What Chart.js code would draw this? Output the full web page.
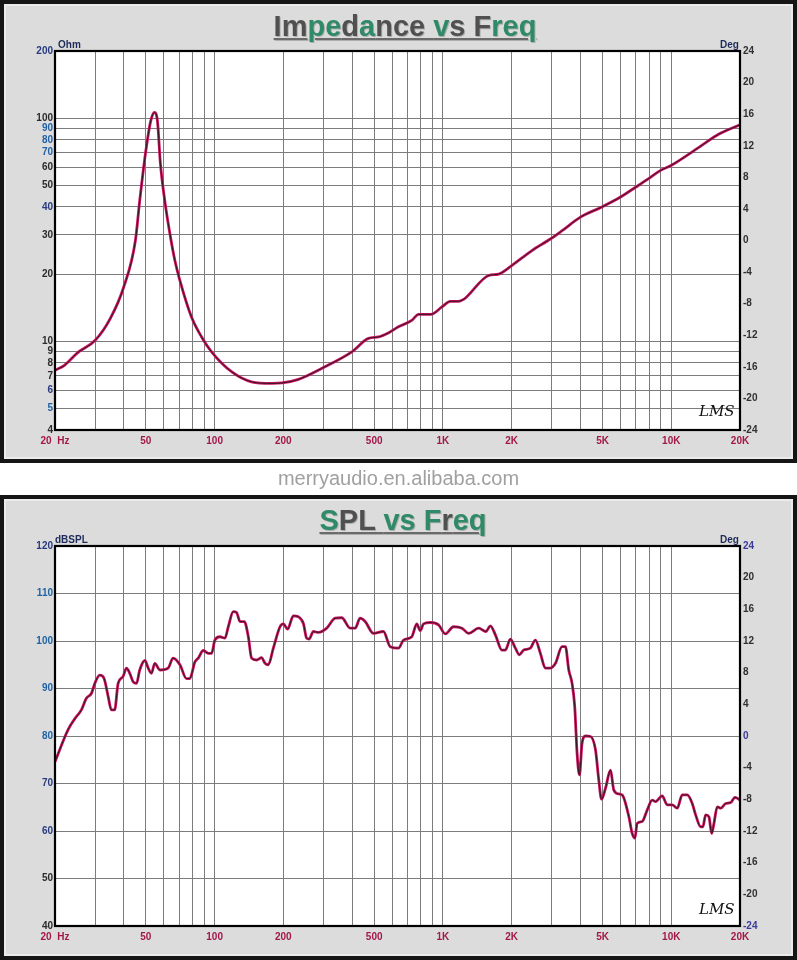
<!DOCTYPE html>
<html><head><meta charset="utf-8">
<script src="https://cdn.jsdelivr.net/npm/chart.js@4.4.1/dist/chart.umd.min.js"></script>
<style>
html,body{margin:0;padding:0;background:#fff;width:797px;height:960px;overflow:hidden;font-family:"Liberation Sans",Arial,sans-serif;}
.panel{position:absolute;left:0;width:797px;box-sizing:border-box;border:4px solid #151515;background:#dcdcdc;box-shadow:inset 0 0 0 2px #ebebeb;}
#p1{top:0;height:463px;}
#p2{top:495px;height:465px;}
canvas{position:absolute;left:0;}
#c1{top:0;}
#c2{top:495px;}
.title{position:absolute;font-weight:bold;font-size:29px;line-height:29px;white-space:nowrap;text-decoration:underline;text-decoration-color:#6a6a6a;text-decoration-thickness:2px;text-underline-offset:2px;transform:translateX(-50%);text-shadow:1px 1px 0 rgba(90,90,90,0.35);}
.g{color:#2f8a68}.k{color:#505050}
.unit{position:absolute;font-weight:bold;font-size:10px;line-height:10px;color:#1d2b5a;white-space:nowrap;}
.lms{position:absolute;font-family:"DejaVu Serif",serif;font-style:italic;font-size:15px;line-height:15px;color:#111;}
#wm{position:absolute;left:0;width:797px;top:468px;text-align:center;font-size:20px;line-height:20px;color:#a0a0a0;}
</style></head>
<body>
<div class="panel" id="p1"></div>
<div class="panel" id="p2"></div>
<canvas id="c1" width="797" height="463"></canvas>
<canvas id="c2" width="797" height="465"></canvas>
<div class="title" style="left:405px;top:12px;"><span class="k">Im</span><span class="g">pe</span><span class="k">d</span><span class="g">a</span><span class="k">nce </span><span class="g">v</span><span class="k">s F</span><span class="g">req</span></div>
<div class="title" style="left:403px;top:506px;"><span class="g">S</span><span class="k">PL </span><span class="g">vs F</span><span class="k">r</span><span class="g">eq</span></div>
<div class="unit" style="left:58px;top:40px;">Ohm</div>
<div class="unit" style="left:720px;top:40px;">Deg</div>
<div class="unit" style="left:55px;top:535px;">dBSPL</div>
<div class="unit" style="left:720px;top:535px;">Deg</div>
<div class="lms" style="left:699px;top:404px;">LMS</div>
<div class="lms" style="left:699px;top:902px;">LMS</div>
<div id="wm">merryaudio.en.alibaba.com</div>
<script>
// ---- data ----
const impFreq = [20, 22, 25, 30, 35, 40, 45, 47, 50, 52.5, 54.5, 56.2, 57.9, 60.5, 63.7, 67, 70.5, 79.3, 87.7, 97, 118.6, 145, 178, 197, 233, 294, 399, 472, 522, 577, 638, 730, 782, 885, 990, 1077, 1164, 1586, 1754, 1973, 2454, 2966, 3326, 4000, 4944, 5970, 6976, 7925, 8940, 9930, 13220, 16180, 20000];
const impOhm = [7.4, 7.8, 8.85, 10.1, 12.7, 17.5, 28.3, 42.7, 71.5, 97, 106, 97, 62.5, 42.7, 30.4, 23.0, 18.7, 12.8, 10.45, 8.96, 7.3, 6.58, 6.47, 6.5, 6.75, 7.55, 8.96, 10.3, 10.45, 10.9, 11.6, 12.4, 13.2, 13.2, 14.25, 15.1, 15.1, 19.7, 20.0, 21.6, 25.5, 28.8, 31.3, 36, 39.9, 44.2, 49, 53.4, 58.2, 61.2, 74, 84.9, 93.4];

const splFreq = [20, 22.8, 24.4, 26.1, 27.4, 28.9, 29.9, 31.4, 32.8, 34.2, 35.3, 36.5, 37.8, 39.7, 41.1, 42.5, 44.0, 45.5, 47.0, 49.5, 51.2, 52.9, 54.7, 57.6, 62.6, 65.8, 70.5, 75.3, 77.9, 82.0, 84.8, 89.2, 93.8, 97.0, 100.3, 105.5, 111, 114.8, 120.7, 124.8, 129.2, 134.9, 140.5, 145.2, 152.7, 160.6, 166.3, 171.9, 180.8, 193.4, 200, 208.9, 221.2, 232.7, 244.8, 253, 259.3, 270.8, 284.8, 309.8, 337.3, 360.4, 392.2, 412.6, 434, 456.4, 496.2, 549, 587.6, 639, 672, 730.6, 768, 795.6, 822, 880, 956.8, 1024, 1113, 1211, 1296, 1433, 1543, 1613, 1697, 1813, 1877, 1974, 2076, 2162, 2258, 2416, 2540, 2672, 2810, 2956, 3110, 3324, 3440, 3557, 3677, 3778, 3805, 3868, 3962, 4068, 4210, 4428, 4657, 4816, 4948, 5152, 5418, 5604, 5894, 6094, 6522, 6742, 6928, 7090, 7458, 7844, 8250, 8538, 9126, 9598, 10096, 10618, 11168, 11746, 12354, 12786, 13446, 13762, 14144, 14622, 15028, 15382, 15902, 16460, 17312, 18208, 19018, 20000];
const splDb = [74.6, 81.3, 83.6, 85.5, 87.9, 89.0, 91.1, 92.8, 92.1, 88.3, 85.5, 85.5, 91.1, 92.5, 94.3, 93.2, 91.4, 91.1, 93.9, 95.9, 94.3, 93.2, 95.3, 93.9, 94.3, 96.4, 95.0, 92.1, 92.1, 95.6, 96.4, 98.0, 97.4, 97.4, 100.2, 100.9, 100.6, 103.0, 106.2, 106.0, 104.1, 104.1, 100.9, 96.4, 96.0, 96.5, 95.3, 95.0, 98.5, 103.0, 103.6, 102.5, 105.3, 105.1, 103.7, 100.6, 100.4, 102.0, 101.8, 102.7, 104.8, 104.9, 102.7, 102.7, 104.8, 104.1, 101.6, 102.0, 98.8, 98.5, 100.2, 100.9, 103.6, 102.2, 103.6, 103.9, 103.4, 101.5, 103.0, 102.7, 101.6, 102.7, 102.0, 103.2, 101.3, 98.1, 98.1, 100.4, 98.5, 97.1, 98.1, 98.5, 100.2, 97.4, 94.3, 94.3, 95.3, 98.8, 98.8, 93.9, 91.1, 86.2, 83.4, 76.4, 71.8, 78.5, 80.0, 79.9, 77.1, 70.7, 66.7, 69.0, 72.8, 68.6, 67.8, 67.6, 63.0, 59.5, 58.5, 61.6, 62.0, 64.4, 66.5, 66.2, 67.4, 65.5, 65.5, 64.8, 67.6, 67.6, 65.8, 63.4, 60.9, 60.9, 63.4, 63.0, 59.5, 61.6, 65.1, 64.8, 65.8, 66.0, 67.1, 66.5];

const freqGrid = [20,30,40,50,60,70,80,90,100,200,300,400,500,600,700,800,900,1000,2000,3000,4000,5000,6000,7000,8000,9000,10000,20000];
const freqLabelValues = [20, 50, 100, 200, 500, 1000, 2000, 5000, 10000, 20000];
const freqLabels = ['20  Hz', '50', '100', '200', '500', '1K', '2K', '5K', '10K', '20K'];
const ohmTicks = [4,5,6,7,8,9,10,20,30,40,50,60,70,80,90,100,200];
const degMin = -24, degMax = 24, degStep = 4;
const splMin = 40, splMax = 120, splStep = 10;

// ---- styling helpers ----
Chart.defaults.font.family = '"Liberation Sans", Arial, sans-serif';
const tickFont = {size: 10, weight: 'bold'};
const gridColor = '#7c7c7c';
const xLabelOf = v => { const i = freqLabelValues.indexOf(v); return i >= 0 ? freqLabels[i] : ''; };

const framePlugin = {
  id: 'frame',
  beforeDraw(chart) {
    const a = chart.chartArea, c = chart.ctx;
    c.save(); c.fillStyle = '#ffffff'; c.fillRect(a.left, a.top, a.right - a.left, a.bottom - a.top); c.restore();
  },
  afterDraw(chart) {
    const a = chart.chartArea, c = chart.ctx;
    c.save(); c.strokeStyle = '#000'; c.lineWidth = 2.2;
    c.strokeRect(a.left, a.top, a.right - a.left, a.bottom - a.top); c.restore();
  }
};

function xScale() {
  return {
    type: 'logarithmic', min: 20, max: 20000, position: 'bottom',
    afterBuildTicks: s => { s.ticks = freqGrid.map(v => ({value: v})); },
    afterFit: s => { s.height = 33; },
    grid: {color: gridColor, lineWidth: 1, drawTicks: false},
    border: {display: true, color: '#000', width: 2},
    ticks: {autoSkip: false, maxRotation: 0, padding: 5, color: '#a3174a', font: tickFont, callback: v => xLabelOf(v)}
  };
}
function degScale(colorFn) {
  return {
    type: 'linear', position: 'right', min: degMin, max: degMax,
    afterFit: s => { s.width = 57; },
    grid: {display: false, drawTicks: false},
    border: {display: true, color: '#000', width: 2},
    ticks: {stepSize: degStep, padding: 3, color: colorFn, font: tickFont}
  };
}
function lineSets(pts) {
  return [
    {data: pts, order: 1, borderColor: '#1a1a1a', borderWidth: 0.9, pointRadius: 0, cubicInterpolationMode: 'monotone', yAxisID: 'y', xAxisID: 'x'},
    {data: pts, order: 2, borderColor: '#cc1260', borderWidth: 2.8, pointRadius: 0, cubicInterpolationMode: 'monotone', yAxisID: 'y', xAxisID: 'x'}
  ];
}
const baseOpts = {
  responsive: false, animation: false, events: [],
  layout: {padding: {top: 51, left: 0, right: 0, bottom: 0}},
  plugins: {legend: {display: false}, tooltip: {enabled: false}}
};

// ---- impedance chart ----
const impBlue = [90, 80, 70, 5], impNavy = [200, 40, 6];
new Chart(document.getElementById('c1'), {
  type: 'line',
  data: {datasets: lineSets(impFreq.map((f, i) => ({x: f, y: impOhm[i]})))},
  options: Object.assign({}, baseOpts, {
    scales: {
      x: xScale(),
      y: {
        type: 'logarithmic', position: 'left', min: 4, max: 200,
        afterBuildTicks: s => { s.ticks = ohmTicks.map(v => ({value: v})); },
        afterFit: s => { s.width = 55; },
        grid: {color: gridColor, lineWidth: 1, drawTicks: false},
        border: {display: true, color: '#000', width: 2},
        ticks: {autoSkip: false, padding: 2, font: tickFont, callback: v => String(v),
          color: c => impBlue.includes(c.tick.value) ? '#1f62a6' : (impNavy.includes(c.tick.value) ? '#283a80' : '#2b2b2b')}
      },
      y2: degScale('#303030')
    }
  }),
  plugins: [framePlugin]
});

// ---- SPL chart ----
const splBlue = [110, 100, 90, 80], splNavy = [120, 70, 60];
new Chart(document.getElementById('c2'), {
  type: 'line',
  data: {datasets: lineSets(splFreq.map((f, i) => ({x: f, y: splDb[i]})))},
  options: Object.assign({}, baseOpts, {
    scales: {
      x: Object.assign(xScale(), {afterFit: s => { s.height = 34; }}),
      y: {
        type: 'linear', position: 'left', min: splMin, max: splMax,
        afterFit: s => { s.width = 55; },
        grid: {color: gridColor, lineWidth: 1, drawTicks: false},
        border: {display: true, color: '#000', width: 2},
        ticks: {stepSize: splStep, padding: 2, font: tickFont,
          color: c => splBlue.includes(c.tick.value) ? '#1f62a6' : (splNavy.includes(c.tick.value) ? '#283a80' : '#2b2b2b')}
      },
      y2: degScale(c => [24, 0, -24].includes(c.tick.value) ? '#3a3a9a' : '#303030')
    }
  }),
  plugins: [framePlugin]
});
</script>
</body></html>
